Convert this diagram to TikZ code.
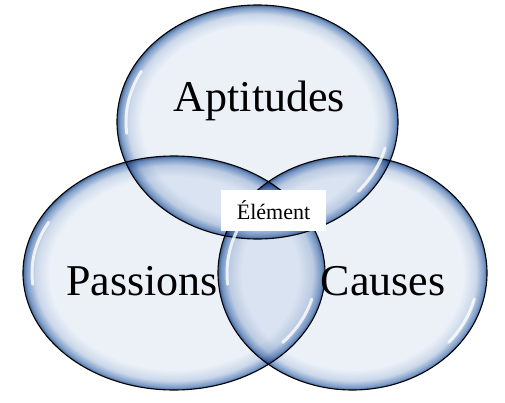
\documentclass[tikz,border=0pt]{standalone}
\usepackage{fontspec}
\setmainfont{Liberation Serif}
\usetikzlibrary{positioning,calc}
\definecolor{cfill}{HTML}{ECF1F8}
\definecolor{crim}{HTML}{7E9DC8}
\definecolor{crimdark}{HTML}{456A9E}
% the ellipse edge sits at 25bp of the shading
\pgfdeclareradialshading{bubble}{\pgfpoint{0bp}{0bp}}{color(0bp)=(cfill); color(20.6bp)=(cfill); color(23bp)=(crim!30!cfill); color(24.4bp)=(crim); color(25bp)=(crimdark); color(50bp)=(crimdark)}
\tikzset{
  bub/.style={shading=bubble, blend mode=multiply},
  rim/.style={draw=black, line width=1.1pt},
  shine/.style={draw=white, line width=3pt, line cap=round, opacity=0.8},
  big/.style={font=\fontsize{44}{48}\selectfont, inner sep=0pt, anchor=base},
  tag/.style={fill=white, minimum width=105pt, minimum height=41pt, inner sep=0pt, font=\fontsize{22}{24}\selectfont},
}
\begin{document}
\begin{tikzpicture}[x=1pt,y=1pt]
\useasboundingbox (0,0) rectangle (505,402);
% bubbles
\shade[bub] (257.5,280) ellipse [x radius=140.5, y radius=117];
\shade[bub] (174,129) ellipse [x radius=151, y radius=117];
\shade[bub] (352.5,129) ellipse [x radius=134.5, y radius=117];
\draw[rim] (257.5,280) ellipse [x radius=140.5, y radius=117];
\draw[rim] (174,129) ellipse [x radius=151, y radius=117];
\draw[rim] (352.5,129) ellipse [x radius=134.5, y radius=117];
% shine
\foreach \cx/\cy/\rx in {257.5/280/140.5, 174/129/151, 352.5/129/134.5}{
  \draw[shine] ($(\cx,\cy)+(152:{\rx-9} and 108)$) arc[start angle=152, end angle=186, x radius=\rx-9, y radius=108];
  \draw[shine] ($(\cx,\cy)+(-14:{\rx-9} and 108)$) arc[start angle=-14, end angle=-40, x radius=\rx-9, y radius=108];
}
% labels
\node[big] (apt) at (259.5,290) {Aptitudes};
\node[big] (pas) at (142,107) {Passions};
\node[big] (cau) at (383,107) {Causes};
\node[tag] (elt) at (273.5,191.5) {Élément};
\end{tikzpicture}
\end{document}
